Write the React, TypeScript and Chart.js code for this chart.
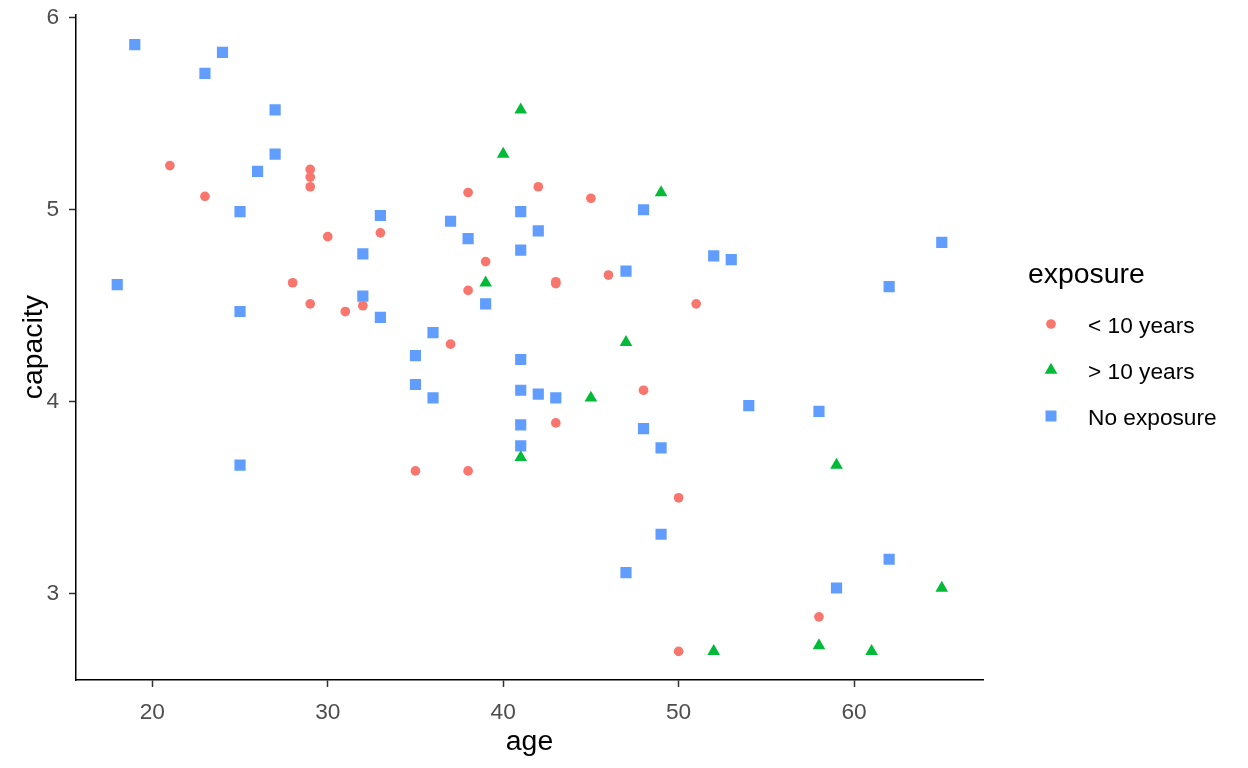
import React, { useEffect, useRef } from 'react';
import { Chart, registerables } from 'chart.js';

Chart.register(...registerables);

// ----- data -----
const seriesNames = ['< 10 years', '> 10 years', 'No exposure'];
const seriesColors = ['#F8766D', '#00BA38', '#619CFF'];

const lessAge = [21, 23, 29, 29, 29, 30, 28, 29, 31, 32, 33, 38, 39, 38, 37, 35, 38, 42, 45, 43, 43, 46, 51, 48, 43, 50, 58, 50];
const lessCap = [5.23, 5.07, 5.21, 5.17, 5.12, 4.86, 4.62, 4.51, 4.47, 4.50, 4.88, 5.09, 4.73, 4.58, 4.30, 3.64, 3.64, 5.12, 5.06, 4.625, 4.615, 4.66, 4.51, 4.06, 3.89, 3.50, 2.88, 2.70];

const moreAge = [41, 40, 49, 39, 47, 45, 41, 59, 65, 52, 58, 61];
const moreCap = [5.52, 5.29, 5.09, 4.62, 4.31, 4.02, 3.71, 3.67, 3.03, 2.70, 2.73, 2.70];

const noneAge = [19, 24, 23, 27, 27, 26, 25, 33, 37, 41, 48, 42, 38, 41, 32, 18, 32, 25, 33, 39, 36, 35, 41, 35, 36, 41, 42, 43, 41, 41, 48, 49, 25, 47, 52, 53, 65, 62, 54, 58, 49, 47, 62, 59];
const noneCap = [5.86, 5.82, 5.71, 5.52, 5.29, 5.20, 4.99, 4.97, 4.94, 4.99, 5.00, 4.89, 4.85, 4.79, 4.77, 4.61, 4.55, 4.47, 4.44, 4.51, 4.36, 4.24, 4.22, 4.09, 4.02, 4.06, 4.04, 4.02, 3.88, 3.77, 3.86, 3.76, 3.67, 4.68, 4.76, 4.74, 4.83, 4.60, 3.98, 3.95, 3.31, 3.11, 3.18, 3.03];

const xTicks = [20, 30, 40, 50, 60];
const yTicks = [3, 4, 5, 6];

const FONT = '"Liberation Sans", Arial, Helvetica, sans-serif';

function toPoints(xs: number[], ys: number[]) {
  return xs.map((x, i) => ({ x, y: ys[i] }));
}

const legendPlugin = {
  id: 'ggLegend',
  afterDraw(chart: any) {
    const ctx = chart.ctx as CanvasRenderingContext2D;
    ctx.save();
    ctx.fillStyle = '#000000';
    ctx.textBaseline = 'alphabetic';
    ctx.textAlign = 'left';
    ctx.font = `28.4px ${FONT}`;
    ctx.fillText('exposure', 1028, 283);
    ctx.font = `22.7px ${FONT}`;
    const styles = ['circle', 'triangle', 'rect'];
    for (let i = 0; i < seriesNames.length; i++) {
      const cy = 324 + i * 46;
      const cx = 1051;
      ctx.fillStyle = seriesColors[i];
      ctx.beginPath();
      if (styles[i] === 'circle') {
        ctx.arc(cx, cy, 4.85, 0, Math.PI * 2);
      } else if (styles[i] === 'triangle') {
        const r = 7.3;
        ctx.moveTo(cx, cy - r);
        ctx.lineTo(cx + Math.sin((2 * Math.PI) / 3) * r, cy + 0.5 * r);
        ctx.lineTo(cx - Math.sin((2 * Math.PI) / 3) * r, cy + 0.5 * r);
        ctx.closePath();
      } else {
        const h = 5.5;
        ctx.rect(cx - h, cy - h, 2 * h, 2 * h);
      }
      ctx.fill();
      ctx.fillStyle = '#000000';
      ctx.fillText(seriesNames[i], 1088, cy + 9);
    }
    ctx.restore();
  },
};

export default function App() {
  const ref = useRef<HTMLCanvasElement | null>(null);

  useEffect(() => {
    if (!ref.current) return;
    const chart = new Chart(ref.current, {
      type: 'scatter',
      data: {
        datasets: [
          {
            label: seriesNames[0],
            data: toPoints(lessAge, lessCap),
            pointStyle: 'circle',
            pointRadius: 4.85,
            backgroundColor: seriesColors[0],
            borderWidth: 0,
          },
          {
            label: seriesNames[1],
            data: toPoints(moreAge, moreCap),
            pointStyle: 'triangle',
            pointRadius: 7.3,
            backgroundColor: seriesColors[1],
            borderWidth: 0,
          },
          {
            label: seriesNames[2],
            data: toPoints(noneAge, noneCap),
            pointStyle: 'rect',
            pointRadius: 7.9,
            backgroundColor: seriesColors[2],
            borderWidth: 0,
          },
        ],
      },
      options: {
        responsive: false,
        animation: false,
        layout: { padding: { top: 14.3, right: 265, left: 0, bottom: 0 } },
        plugins: {
          legend: { display: false },
          tooltip: { enabled: false },
        },
        scales: {
          x: {
            type: 'linear',
            min: 15.65,
            max: 67.35,
            afterBuildTicks: (s: any) => {
              s.ticks = xTicks.map((v) => ({ value: v }));
            },
            afterFit: (s: any) => {
              s.height = 88;
              s.paddingLeft = 0;
              s.paddingRight = 0;
            },
            grid: {
              drawOnChartArea: false,
              drawTicks: true,
              tickLength: 7,
              tickColor: '#333333',
              tickWidth: 1.5,
            },
            border: { display: true, color: '#000000', width: 1.5 },
            ticks: {
              color: '#4D4D4D',
              font: { family: FONT, size: 22.7 },
              padding: 12,
              maxRotation: 0,
              autoSkip: false,
              callback: (v: any) => String(v),
            },
            title: {
              display: true,
              text: 'age',
              color: '#000000',
              font: { family: FONT, size: 28.4 },
              padding: { top: 0, bottom: 9 },
            },
          },
          y: {
            type: 'linear',
            min: 2.551,
            max: 6.018,
            afterBuildTicks: (s: any) => {
              s.ticks = yTicks.map((v) => ({ value: v }));
            },
            afterFit: (s: any) => {
              s.width = 76;
              s.paddingTop = 0;
              s.paddingBottom = 0;
            },
            grid: {
              drawOnChartArea: false,
              drawTicks: true,
              tickLength: 7,
              tickColor: '#333333',
              tickWidth: 1.5,
            },
            border: { display: true, color: '#000000', width: 1.5 },
            ticks: {
              color: '#4D4D4D',
              font: { family: FONT, size: 22.7 },
              padding: 10,
              autoSkip: false,
              callback: (v: any) => String(v),
            },
            title: {
              display: true,
              text: 'capacity',
              color: '#000000',
              font: { family: FONT, size: 28.4 },
              padding: { top: 17, bottom: 0 },
            },
          },
        },
      },
      plugins: [legendPlugin],
    });
    return () => chart.destroy();
  }, []);

  return (
    <div style={{ position: 'fixed', left: 0, top: 0, width: 1248, height: 768, background: '#ffffff' }}>
      <canvas ref={ref} width={1248} height={768} style={{ display: 'block' }} />
    </div>
  );
}
